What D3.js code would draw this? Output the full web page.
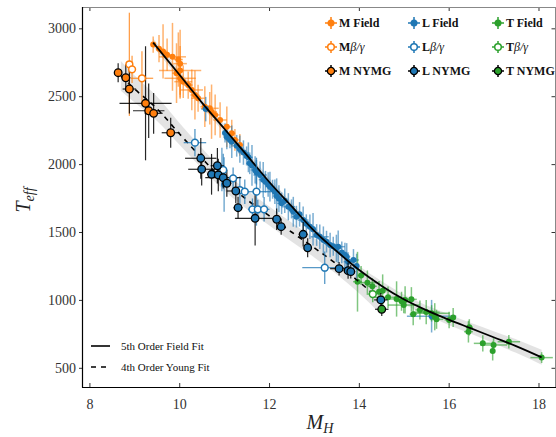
<!DOCTYPE html>
<html>
<head>
<meta charset="utf-8">
<script src="https://cdn.jsdelivr.net/npm/d3@7"></script>
<style>
  html, body { margin: 0; padding: 0; background: #fff; }
  svg { display: block; }
</style>
</head>
<body>
<svg id="chart" width="556" height="437"></svg>
<script>
// ---- data: [M_H, Teff, err M_H, err Teff] ----
const xTicks = [8, 10, 12, 14, 16, 18];
const yTicks = [500, 1000, 1500, 2000, 2500, 3000];

const mField = [
  [9.42,2880,0.05,60],[9.55,2850,0.06,100],[9.64,2830,0.10,200],[9.73,2805,0.08,120],
  [9.85,2790,0.30,250],[9.98,2770,0.10,200],[10.02,2740,0.15,250],[10.02,2690,0.47,180],
  [9.94,2670,0.10,220],[10.02,2632,0.35,150],[10.09,2607,0.20,120],[10.20,2582,0.10,100],
  [10.28,2546,0.25,150],[10.35,2509,0.10,180],[10.42,2485,0.15,100],[10.57,2423,0.10,150],
  [10.68,2411,0.20,120],[10.72,2386,0.12,200],[10.80,2362,0.10,150],[10.91,2325,0.15,130],
  [11.06,2275,0.10,150],[11.17,2227,0.08,100],[11.24,2178,0.10,80],[11.35,2141,0.08,80]
];
const lField = [
  [10.59,2405,0.10,90],[11.02,2230,0.06,70],[11.06,2200,0.08,90],[11.13,2177,0.10,60],
  [11.17,2165,0.06,120],[11.28,2135,0.10,80],[11.35,2110,0.07,100],[11.43,2085,0.12,90],
  [11.50,2060,0.05,70],[11.54,2050,0.10,110],[11.57,2006,0.08,80],[11.62,1990,0.06,150],
  [11.69,1957,0.10,100],[11.72,1940,0.07,90],[11.80,1920,0.15,100],[11.87,1885,0.10,130],
  [11.92,1870,0.05,80],[11.98,1850,0.08,90],[12.02,1834,0.10,110],[12.08,1815,0.06,70],
  [12.13,1797,0.12,90],[12.17,1765,0.08,130],[12.22,1745,0.05,100],[12.28,1711,0.10,80],
  [12.35,1730,0.07,90],[12.43,1686,0.15,100],[12.50,1670,0.06,70],[12.54,1649,0.08,110],
  [12.61,1613,0.10,80],[12.68,1630,0.05,90],[12.76,1588,0.12,100],[12.83,1560,0.07,70],
  [12.91,1539,0.10,90],[12.98,1520,0.06,120],[13.06,1478,0.08,80],[13.13,1465,0.20,90],
  [13.21,1441,0.10,100],[13.28,1429,0.06,80],[13.36,1404,0.10,90],[13.43,1395,0.07,70],
  [13.50,1380,0.12,100],[13.54,1392,0.15,120],[13.62,1350,0.10,80],[13.69,1331,0.06,90],
  [13.73,1318,0.08,100],[13.76,1281,0.10,70],[13.88,1294,0.12,80],[13.95,1250,0.06,90],
  [10.95,1960,0.05,160],[11.00,1850,0.06,200],[15.62,880,0.55,120]
];
const tField = [
  [13.97,1134,0.10,220],[14.05,1180,0.08,70],[14.19,1127,0.25,90],[14.30,1100,0.10,60],
  [14.45,1060,0.06,80],[14.53,1068,0.10,120],[14.65,1019,0.30,80],[14.84,1007,0.20,130],
  [14.95,990,0.10,70],[15.03,1000,0.08,100],[15.17,1004,0.12,90],[15.00,962,0.35,60],
  [15.21,894,0.08,80],[15.36,926,0.10,70],[15.50,910,0.30,90],[15.62,901,0.40,60],
  [15.69,876,0.10,100],[15.73,857,0.15,70],[16.01,852,0.10,60],[16.10,870,0.05,70],
  [16.46,798,0.08,60],[16.44,766,0.10,80],[16.76,680,0.20,60],[17.00,668,0.30,50],
  [16.98,624,0.05,70],[17.34,692,0.25,50],[18.07,575,0.25,40]
];
const mBeta = [[8.89,2735,0.05,380],[8.95,2698,0.06,100],[9.17,2632,0.25,200]];
const lBeta = [
  [10.35,2158,0.25,100],[10.98,1957,0.05,120],[11.20,1895,0.10,80],[11.35,1809,0.15,100],
  [11.46,1797,0.10,90],[11.72,1797,0.30,250],[11.63,1667,0.10,80],[11.75,1667,0.10,70],
  [11.89,1667,0.12,90],[13.24,1237,0.50,120]
];
const tBeta = [[14.31,1043,0.10,60]];
const mNYMG = [
  [8.64,2673,0.08,70],[8.81,2636,0.10,100],[8.89,2553,0.15,180],[9.25,2448,0.58,420],
  [9.32,2393,0.35,200],[9.43,2374,0.20,150],[9.81,2231,0.20,110]
];
const lNYMG = [
  [10.48,2043,0.35,150],[10.50,1962,0.30,120],[10.85,1988,0.15,130],[10.72,1925,0.10,150],
  [10.87,1920,0.10,120],[10.98,1900,0.40,80],[11.06,1859,0.10,100],[11.26,1802,0.20,90],
  [11.31,1679,0.10,80],[11.69,1601,0.45,200],[12.17,1594,0.10,80],[12.27,1539,0.10,60],
  [12.76,1483,0.10,90],[12.86,1384,0.05,70],[13.56,1230,0.20,50],[13.76,1215,0.10,60],
  [13.82,1208,0.10,50],[14.49,1000,0.15,50]
];
const tNYMG = [[14.51,931,0.15,50]];

// fit curves: [M_H, Teff, half-width of the uncertainty band]
const fieldFit = [
  [9.42,2895,30],[10,2660,30],[10.5,2455,30],[11,2262,30],[11.5,2068,30],[12,1870,30],
  [12.5,1690,30],[13,1510,30],[13.5,1360,30],[14,1222,30],[14.5,1105,35],[15,1005,35],
  [15.5,925,35],[16,855,40],[16.5,790,40],[17,725,45],[17.5,660,50],[18.07,577,55]
];
const youngFit = [
  [8.7,2650,110],[9,2555,100],[9.5,2410,90],[10,2225,80],[10.5,2045,75],[11,1875,70],
  [11.5,1740,70],[12,1620,70],[12.5,1500,70],[13,1385,70],[13.5,1265,75],[14,1135,85],
  [14.5,990,100]
];

const colors = { M: "#ff7f0e", L: "#1f77b4", T: "#2ca02c" };

// ---- layout ----
const svg = d3.select("#chart");
const frame = { left: 82, right: 556, top: 7, bottom: 387 };
const x = d3.scaleLinear().domain([7.835, 18.39]).range([frame.left, frame.right]);
const y = d3.scaleLinear().domain([358.6, 3157]).range([frame.bottom, frame.top]);
const serif = "'Liberation Serif', 'DejaVu Serif', serif";

svg.append("defs").append("clipPath").attr("id", "plotClip")
  .append("rect").attr("x", frame.left).attr("y", frame.top)
  .attr("width", frame.right - frame.left).attr("height", frame.bottom - frame.top);

const plot = svg.append("g").attr("clip-path", "url(#plotClip)");

// uncertainty bands
const band = d3.area().curve(d3.curveMonotoneX)
  .x(d => x(d[0])).y0(d => y(d[1] - d[2])).y1(d => y(d[1] + d[2]));
plot.append("path").datum(youngFit).attr("d", band).attr("fill", "#d9d9d9").attr("opacity", 0.75);
plot.append("path").datum(fieldFit).attr("d", band).attr("fill", "#d9d9d9").attr("opacity", 0.75);

function errorBars(g, data, stroke, opacity, width) {
  const eg = g.append("g").attr("stroke", stroke).attr("stroke-opacity", opacity)
    .attr("stroke-width", width);
  eg.selectAll(".h").data(data).join("line")
    .attr("x1", d => x(d[0] - d[2])).attr("x2", d => x(d[0] + d[2]))
    .attr("y1", d => y(d[1])).attr("y2", d => y(d[1]));
  eg.selectAll(".v").data(data).join("line")
    .attr("x1", d => x(d[0])).attr("x2", d => x(d[0]))
    .attr("y1", d => y(d[1] - d[3])).attr("y2", d => y(d[1] + d[3]));
}
function dots(g, data, fill, stroke, sw, r) {
  g.append("g").selectAll("circle").data(data).join("circle")
    .attr("cx", d => x(d[0])).attr("cy", d => y(d[1])).attr("r", r)
    .attr("fill", fill).attr("stroke", stroke).attr("stroke-width", sw);
}

// field objects
[[mField, colors.M], [lField, colors.L], [tField, colors.T]].forEach(([d, c]) => {
  errorBars(plot, d, c, 0.6, 1.5);
});
[[mField, colors.M], [lField, colors.L], [tField, colors.T]].forEach(([d, c]) => {
  dots(plot, d, c, "none", 0, 3);
});

// fit lines
const fitLine = d3.line().curve(d3.curveMonotoneX).x(d => x(d[0])).y(d => y(d[1]));
plot.append("path").datum(fieldFit).attr("d", fitLine)
  .attr("fill", "none").attr("stroke", "#000").attr("stroke-width", 1.8);
plot.append("path").datum(youngFit).attr("d", fitLine)
  .attr("fill", "none").attr("stroke", "#000").attr("stroke-width", 1.6)
  .attr("stroke-dasharray", "5,5");

// low-gravity and young moving group members
[[mBeta, colors.M], [lBeta, colors.L], [tBeta, colors.T]].forEach(([d, c]) => {
  errorBars(plot, d, c, 0.75, 1.3);
});
[mNYMG, lNYMG, tNYMG].forEach(d => errorBars(plot, d, "#000", 0.85, 1.2));
[[mBeta, colors.M], [lBeta, colors.L], [tBeta, colors.T]].forEach(([d, c]) => {
  dots(plot, d, "#fff", c, 1.5, 3.4);
});
[[mNYMG, colors.M], [lNYMG, colors.L], [tNYMG, colors.T]].forEach(([d, c]) => {
  dots(plot, d, c, "#000", 1.3, 3.8);
});

// ---- axes ----
const axes = svg.append("g").attr("font-family", serif);
const gB = axes.append("g").attr("transform", `translate(0,${frame.bottom})`)
  .call(d3.axisBottom(x).tickValues(xTicks).tickFormat(d3.format("d"))
    .tickSizeInner(-4).tickSizeOuter(0).tickPadding(12));
const gT = axes.append("g").attr("transform", `translate(0,${frame.top})`)
  .call(d3.axisTop(x).tickValues(xTicks).tickSizeInner(-4).tickSizeOuter(0).tickFormat(""));
const gL = axes.append("g").attr("transform", `translate(${frame.left},0)`)
  .call(d3.axisLeft(y).tickValues(yTicks).tickFormat(d3.format("d"))
    .tickSizeInner(3).tickSizeOuter(0).tickPadding(3));
const gR = axes.append("g").attr("transform", `translate(${frame.right - 0.5},0)`)
  .call(d3.axisRight(y).tickValues(yTicks).tickSizeInner(-4).tickSizeOuter(0).tickFormat(""));
[gB, gT, gL, gR].forEach(g => {
  g.select(".domain").remove();
  g.selectAll(".tick line").attr("stroke", "#333");
  g.selectAll(".tick text").attr("font-size", 14).attr("fill", "#333")
    .attr("font-family", serif);
});

// frame
svg.append("line").attr("x1", frame.left).attr("x2", frame.right)
  .attr("y1", frame.top + 0.5).attr("y2", frame.top + 0.5).attr("stroke", "#888");
svg.append("line").attr("x1", frame.right - 0.5).attr("x2", frame.right - 0.5)
  .attr("y1", frame.top).attr("y2", frame.bottom).attr("stroke", "#888");
svg.append("line").attr("x1", frame.left + 0.5).attr("x2", frame.left + 0.5)
  .attr("y1", frame.top).attr("y2", frame.bottom + 0.5).attr("stroke", "#000").attr("stroke-width", 1.2);
svg.append("line").attr("x1", frame.left).attr("x2", frame.right)
  .attr("y1", frame.bottom + 0.5).attr("y2", frame.bottom + 0.5).attr("stroke", "#000").attr("stroke-width", 1.2);

// axis titles
const yTitle = svg.append("text").attr("font-family", serif).attr("font-style", "italic")
  .attr("fill", "#222").attr("text-anchor", "middle")
  .attr("transform", "translate(30,200) rotate(-90)");
yTitle.append("tspan").attr("font-size", 20).text("T");
yTitle.append("tspan").attr("font-size", 14).attr("dy", 4).text("eff");

const xTitle = svg.append("text").attr("font-family", serif).attr("font-style", "italic")
  .attr("fill", "#222").attr("text-anchor", "middle")
  .attr("x", 320).attr("y", 429);
xTitle.append("tspan").attr("font-size", 20).text("M");
xTitle.append("tspan").attr("font-size", 14).attr("dy", 4).text("H");

// ---- legend: spectral types ----
const legendCols = [
  { key: "M", x: 331 }, { key: "L", x: 414 }, { key: "T", x: 498 }
];
const legendRows = [
  { y: 23, kind: "field", suffix: " Field" },
  { y: 47, kind: "beta", suffix: "β/γ" },
  { y: 71, kind: "nymg", suffix: " NYMG" }
];
const leg = svg.append("g").attr("font-family", serif);
legendCols.forEach(col => {
  const c = colors[col.key];
  legendRows.forEach(row => {
    const g = leg.append("g").attr("transform", `translate(${col.x},${row.y})`);
    const barColor = row.kind === "nymg" ? "#000" : c;
    g.append("line").attr("x1", -6).attr("x2", 6).attr("stroke", barColor).attr("stroke-width", 1.5);
    g.append("line").attr("y1", -6).attr("y2", 6).attr("stroke", barColor).attr("stroke-width", 1.5);
    if (row.kind === "field") {
      g.append("circle").attr("r", 3.5).attr("fill", c);
    } else if (row.kind === "beta") {
      g.append("circle").attr("r", 3.3).attr("fill", "#fff").attr("stroke", c).attr("stroke-width", 1.5);
    } else {
      g.append("circle").attr("r", 3.6).attr("fill", c).attr("stroke", "#000").attr("stroke-width", 1.3);
    }
    const t = g.append("text").attr("x", 8).attr("y", 4).attr("font-size", 12).attr("fill", "#111");
    if (row.kind === "beta") {
      t.append("tspan").attr("font-weight", "bold").text(col.key);
      t.append("tspan").attr("font-style", "italic").text(row.suffix);
    } else {
      t.attr("font-weight", "bold").text(col.key + row.suffix);
    }
  });
});

// ---- legend: fits ----
const fitLegend = [
  { label: "5th Order Field Fit", dash: null, y: 346 },
  { label: "4th Order Young Fit", dash: "5,5", y: 367 }
];
fitLegend.forEach(f => {
  svg.append("line").attr("x1", 91).attr("x2", 110).attr("y1", f.y).attr("y2", f.y)
    .attr("stroke", "#000").attr("stroke-width", 1.6)
    .attr("stroke-dasharray", f.dash);
  svg.append("text").attr("x", 121).attr("y", f.y + 4).attr("font-family", serif)
    .attr("font-size", 11).attr("fill", "#111").text(f.label);
});
</script>
</body>
</html>
